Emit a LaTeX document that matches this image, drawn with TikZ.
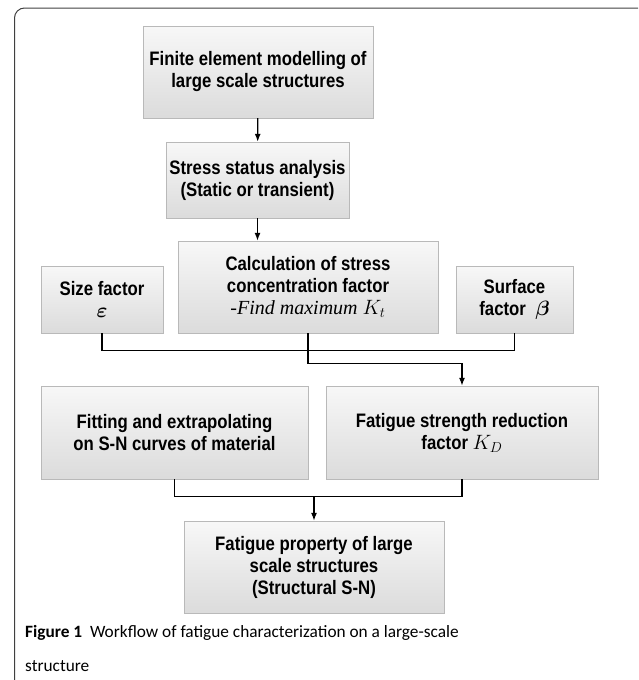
\documentclass[tikz,border=0pt]{standalone}
\usepackage{bm}
\usepackage{fontspec}
\setmainfont{Liberation Sans}[FakeStretch=0.86]
\newfontfamily\capfont{Carlito}
\newfontfamily\serifit{Liberation Serif}
\usetikzlibrary{arrows.meta,shadows}

\begin{document}
\begin{tikzpicture}[x=1pt, y=-1pt,
  every node/.style={font=\fontsize{19.5}{22}\selectfont\bfseries},
  stepbox/.style={draw=gray!55, rectangle, align=center, top color=gray!6, bottom color=gray!28,
    drop shadow={opacity=0.25, shadow xshift=1pt, shadow yshift=-1pt}, inner sep=2pt},
  capline/.style={anchor=base west, inner sep=0pt, font=\capfont\fontsize{17.3}{20}\selectfont},
  link/.style={line width=1.3pt, black},
  flow/.style={link, -{Latex[length=8pt, width=6pt]}}]
  \useasboundingbox (0,0) rectangle (638,680);
  \clip (0,0) rectangle (638,680);
  % frame round the figure
  \draw[line width=1pt, black!75, rounded corners=10pt] (14.5,700) -- (14.5,8) -- (650,8) -- (650,700);
  % boxes
  \node[stepbox, minimum width=230pt, minimum height=92pt] (fem) at (258,72) {Finite element modelling of\\large scale structures};
  \node[stepbox, minimum width=183pt, minimum height=76pt] (stress) at (257.5,180) {Stress status analysis\\(Static or transient)};
  \node[stepbox, minimum width=260pt, minimum height=92pt] (calc) at (308,287) {Calculation of stress\\concentration factor\\{\serifit\mdseries\itshape\fontsize{20}{22}\selectfont -Find maximum $K_t$}};
  \node[stepbox, minimum width=122pt, minimum height=67pt] (size) at (102,299.5) {Size factor\\$\bm{\varepsilon}$};
  \node[stepbox, minimum width=117pt, minimum height=67pt] (surf) at (514.5,299.5) {Surface\\factor\ \ $\bm{\beta}$};
  \node[stepbox, minimum width=267pt, minimum height=93pt] (fit) at (174.5,432.5) {Fitting and extrapolating\\on S-N curves of material};
  \node[stepbox, minimum width=272pt, minimum height=93pt] (kd) at (462,432.5) {Fatigue strength reduction\\factor $K_D$};
  \node[stepbox, minimum width=260pt, minimum height=92pt] (prop) at (314,567) {Fatigue property of large\\scale structures\\(Structural S-N)};
  \coordinate (merge) at (314,496);
  % connectors
  \draw[flow] (fem) -- (stress);
  \draw[flow] (stress.south) -- (stress.south |- calc.north);
  \draw[link] (size.south) -- ++(0,17) -| (surf.south);
  \draw[flow] (calc.south) -- ++(0,30) -| (kd.north);
  \draw[link] (fit.south) -- ++(0,17) -| (kd.south);
  \draw[flow] (merge) -- (prop.north);
  % caption
  \node[capline] (caption) at (25,637) {\textbf{Figure 1}\ \ Workflow of fatigue characterization on a large-scale};
  \node[capline] (captail) at (25,671) {structure};
\end{tikzpicture}
\end{document}
